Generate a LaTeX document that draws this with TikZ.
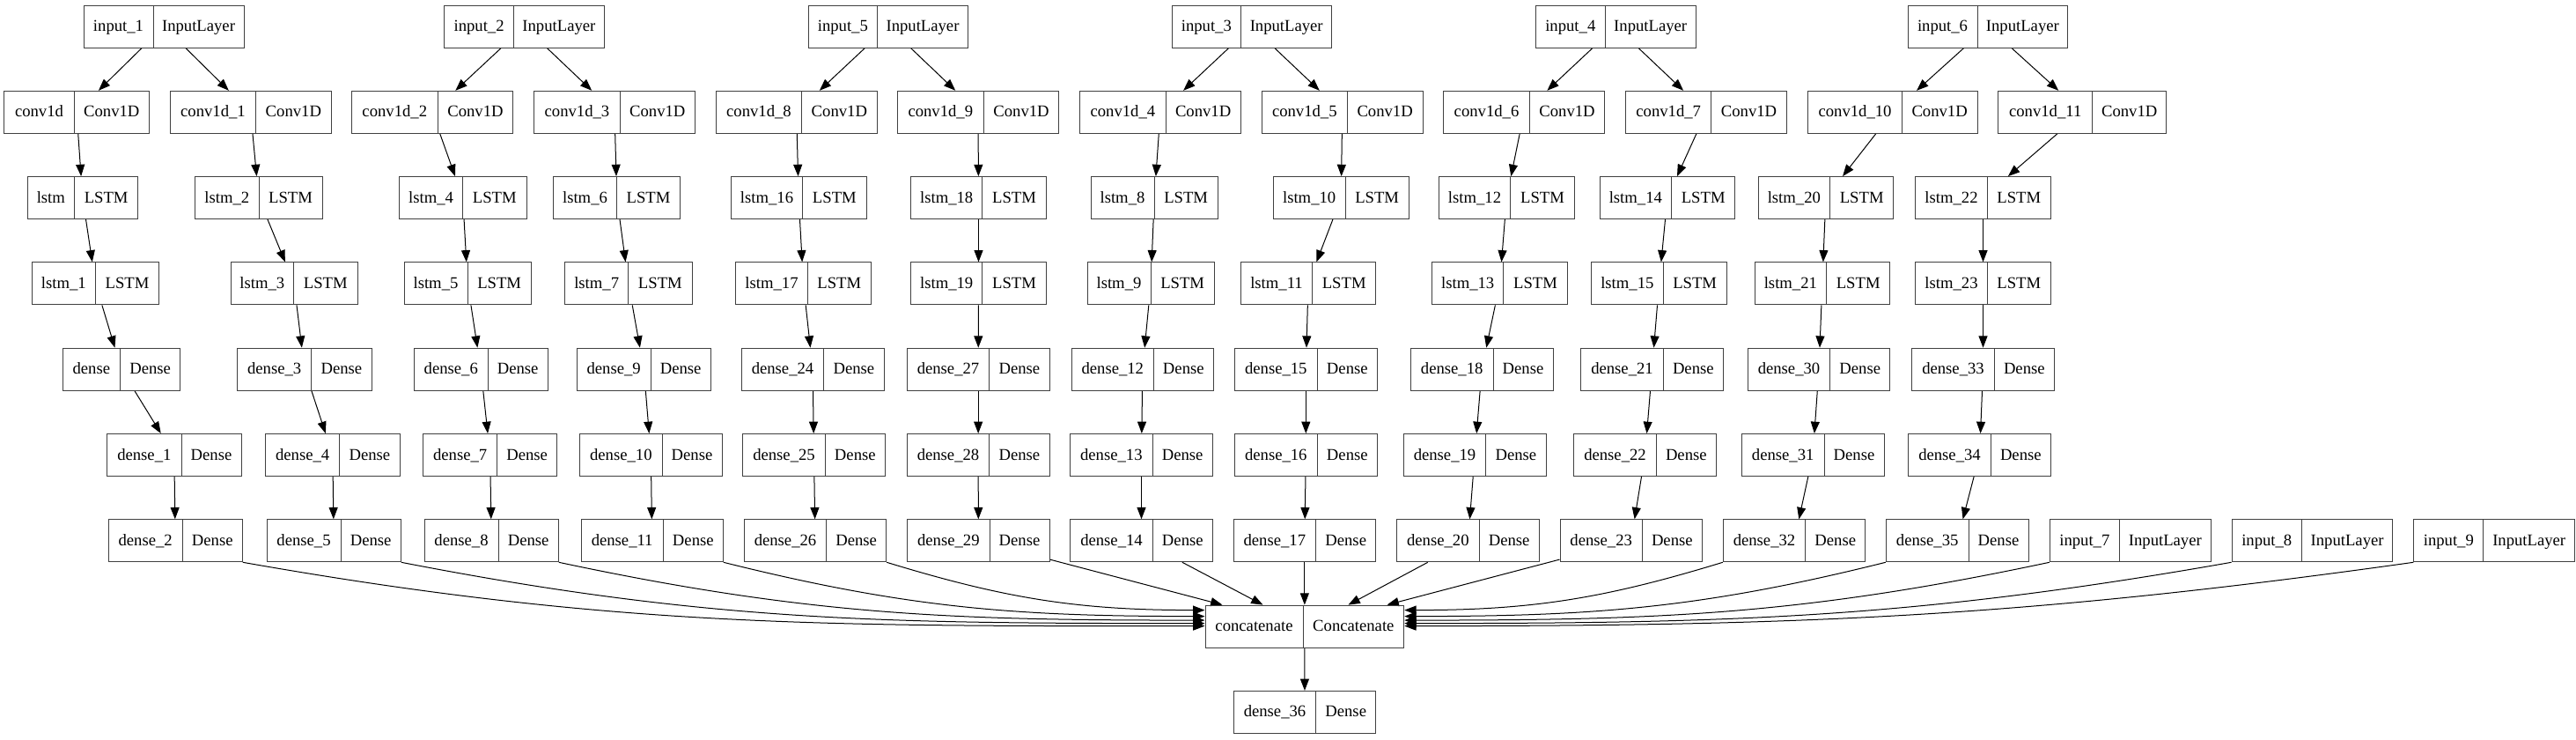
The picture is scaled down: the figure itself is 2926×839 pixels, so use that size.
\documentclass[tikz,border=0pt]{standalone}
\usepackage{fontspec}
\setmainfont{Liberation Serif}
\usepackage{tikz}
\usetikzlibrary{arrows.meta}
\usetikzlibrary{calc}
\pgfdeclarelayer{nodelayer}
\pgfdeclarelayer{edgelayer}
\pgfsetlayers{edgelayer,nodelayer,main}
\tikzset{lbox/.style={shape=rectangle, draw=black!75, line width=0.75pt, inner sep=0pt, minimum height=36pt}}
\tikzset{lsplit/.style={draw=black!75, line width=0.75pt}}
\tikzset{ltext/.style={inner sep=0pt, anchor=base, font=\fontsize{14}{16}\selectfont}}
\tikzset{arr/.style={line width=0.75pt, -{Triangle[length=10pt,width=7.5pt]}}}
% one keras layer: name, left, split, right, row, layer name, layer type
\newcommand{\lyr}[7]{%
\pgfmathsetmacro{\ly}{30+97.3*#5}%
\node [style=lbox, minimum width={(#4-#2)*0.75pt}] (#1) at ({(#2+#4)/2}, \ly) {};
\draw [style=lsplit] (#3, \ly-24) -- (#3, \ly+24);
\node [style=ltext] (#1a) at ({(#2+#3)/2}, \ly+5.5) {#6};
\node [style=ltext] (#1b) at ({(#3+#4)/2}, \ly+5.5) {#7};
}

\begin{document}
\begin{tikzpicture}[x=0.75pt, y=-0.75pt]
	\useasboundingbox (0, 0) rectangle (2926, 839);
	\begin{pgfonlayer}{nodelayer}
		\lyr{input1}{95}{174}{277}{0}{input\_1}{InputLayer}
		\lyr{input2}{504.7}{583.5}{686.3}{0}{input\_2}{InputLayer}
		\lyr{input5}{918}{996.7}{1099.3}{0}{input\_5}{InputLayer}
		\lyr{input3}{1331}{1409.7}{1512.7}{0}{input\_3}{InputLayer}
		\lyr{input4}{1744.3}{1823.3}{1926}{0}{input\_4}{InputLayer}
		\lyr{input6}{2167}{2246}{2348.7}{0}{input\_6}{InputLayer}

		\lyr{conv1d}{4.7}{84.3}{169.3}{1}{conv1d}{Conv1D}
		\lyr{conv1d1}{193.3}{290.7}{376}{1}{conv1d\_1}{Conv1D}
		\lyr{conv1d2}{399.3}{497.3}{582.7}{1}{conv1d\_2}{Conv1D}
		\lyr{conv1d3}{606.7}{704.3}{789.3}{1}{conv1d\_3}{Conv1D}
		\lyr{conv1d8}{813.3}{910.7}{996}{1}{conv1d\_8}{Conv1D}
		\lyr{conv1d9}{1019.3}{1117.3}{1202.7}{1}{conv1d\_9}{Conv1D}
		\lyr{conv1d4}{1226.7}{1324}{1409.3}{1}{conv1d\_4}{Conv1D}
		\lyr{conv1d5}{1433.3}{1530.3}{1616}{1}{conv1d\_5}{Conv1D}
		\lyr{conv1d6}{1639.7}{1737.3}{1822.7}{1}{conv1d\_6}{Conv1D}
		\lyr{conv1d7}{1846.7}{1943.7}{2029.3}{1}{conv1d\_7}{Conv1D}
		\lyr{conv1d10}{2053.7}{2160.3}{2246}{1}{conv1d\_10}{Conv1D}
		\lyr{conv1d11}{2269.7}{2376.7}{2460.7}{1}{conv1d\_11}{Conv1D}

		\lyr{lstm}{31}{84.7}{156.7}{2}{lstm}{LSTM}
		\lyr{lstm2}{221.7}{294}{366}{2}{lstm\_2}{LSTM}
		\lyr{lstm4}{453.4}{525.7}{598}{2}{lstm\_4}{LSTM}
		\lyr{lstm6}{628.7}{700.3}{772.7}{2}{lstm\_6}{LSTM}
		\lyr{lstm16}{830.3}{911.7}{984}{2}{lstm\_16}{LSTM}
		\lyr{lstm18}{1034.7}{1115.7}{1188.3}{2}{lstm\_18}{LSTM}
		\lyr{lstm8}{1239}{1311}{1383.3}{2}{lstm\_8}{LSTM}
		\lyr{lstm10}{1446.3}{1528}{1600.3}{2}{lstm\_10}{LSTM}
		\lyr{lstm12}{1634.3}{1715.7}{1788.3}{2}{lstm\_12}{LSTM}
		\lyr{lstm14}{1817}{1898.7}{1970.7}{2}{lstm\_14}{LSTM}
		\lyr{lstm20}{1997}{2078.7}{2150.7}{2}{lstm\_20}{LSTM}
		\lyr{lstm22}{2175.7}{2257.3}{2329.3}{2}{lstm\_22}{LSTM}

		\lyr{lstm1}{36.3}{108.3}{180.7}{3}{lstm\_1}{LSTM}
		\lyr{lstm3}{262}{333.7}{406}{3}{lstm\_3}{LSTM}
		\lyr{lstm5}{459}{531}{603.3}{3}{lstm\_5}{LSTM}
		\lyr{lstm7}{641.7}{713.7}{786}{3}{lstm\_7}{LSTM}
		\lyr{lstm17}{835.7}{917.3}{989.3}{3}{lstm\_17}{LSTM}
		\lyr{lstm19}{1034.7}{1115.7}{1188.3}{3}{lstm\_19}{LSTM}
		\lyr{lstm9}{1235}{1307}{1379.3}{3}{lstm\_9}{LSTM}
		\lyr{lstm11}{1409.3}{1490.7}{1562.7}{3}{lstm\_11}{LSTM}
		\lyr{lstm13}{1626.7}{1707.7}{1780.3}{3}{lstm\_13}{LSTM}
		\lyr{lstm15}{1807.7}{1889}{1961.3}{3}{lstm\_15}{LSTM}
		\lyr{lstm21}{1993}{2074.7}{2146.7}{3}{lstm\_21}{LSTM}
		\lyr{lstm23}{2175.7}{2257.3}{2329.3}{3}{lstm\_23}{LSTM}

		\lyr{dense}{71}{136.7}{204.7}{4}{dense}{Dense}
		\lyr{dense3}{269.7}{353.7}{422}{4}{dense\_3}{Dense}
		\lyr{dense6}{470.3}{554.3}{622}{4}{dense\_6}{Dense}
		\lyr{dense9}{655.3}{739}{807.3}{4}{dense\_9}{Dense}
		\lyr{dense24}{842.3}{935.7}{1004}{4}{dense\_24}{Dense}
		\lyr{dense27}{1030.3}{1123.7}{1192}{4}{dense\_27}{Dense}
		\lyr{dense12}{1217.3}{1310.3}{1378.3}{4}{dense\_12}{Dense}
		\lyr{dense15}{1402.3}{1496.3}{1564.3}{4}{dense\_15}{Dense}
		\lyr{dense18}{1602.3}{1696}{1764}{4}{dense\_18}{Dense}
		\lyr{dense21}{1795.7}{1889.3}{1957.3}{4}{dense\_21}{Dense}
		\lyr{dense30}{1985.3}{2078.7}{2146.7}{4}{dense\_30}{Dense}
		\lyr{dense33}{2171.7}{2265.3}{2333.3}{4}{dense\_33}{Dense}

		\lyr{dense1}{121.7}{206}{274}{5}{dense\_1}{Dense}
		\lyr{dense4}{301.7}{385.7}{454}{5}{dense\_4}{Dense}
		\lyr{dense7}{480.7}{564.7}{632.7}{5}{dense\_7}{Dense}
		\lyr{dense10}{658.7}{752}{820}{5}{dense\_10}{Dense}
		\lyr{dense25}{843.7}{937.3}{1005.3}{5}{dense\_25}{Dense}
		\lyr{dense28}{1030.3}{1123.7}{1192}{5}{dense\_28}{Dense}
		\lyr{dense13}{1215.7}{1309}{1377.3}{5}{dense\_13}{Dense}
		\lyr{dense16}{1402.3}{1496.3}{1564.3}{5}{dense\_16}{Dense}
		\lyr{dense19}{1594.3}{1687.7}{1756}{5}{dense\_19}{Dense}
		\lyr{dense22}{1787.7}{1881.3}{1949.3}{5}{dense\_22}{Dense}
		\lyr{dense31}{1978.3}{2072}{2140}{5}{dense\_31}{Dense}
		\lyr{dense34}{2167.7}{2261.3}{2329.3}{5}{dense\_34}{Dense}

		\lyr{dense2}{123}{207.3}{275.3}{6}{dense\_2}{Dense}
		\lyr{dense5}{303}{387}{455.3}{6}{dense\_5}{Dense}
		\lyr{dense8}{482}{566}{634.3}{6}{dense\_8}{Dense}
		\lyr{dense11}{660}{753.3}{821.3}{6}{dense\_11}{Dense}
		\lyr{dense26}{845.3}{938.7}{1006.7}{6}{dense\_26}{Dense}
		\lyr{dense29}{1030.7}{1124}{1192}{6}{dense\_29}{Dense}
		\lyr{dense14}{1215.7}{1309.3}{1377.3}{6}{dense\_14}{Dense}
		\lyr{dense17}{1401}{1494.7}{1562.7}{6}{dense\_17}{Dense}
		\lyr{dense20}{1586.7}{1680}{1748.3}{6}{dense\_20}{Dense}
		\lyr{dense23}{1772}{1865.3}{1933.3}{6}{dense\_23}{Dense}
		\lyr{dense32}{1957.3}{2050.7}{2118.7}{6}{dense\_32}{Dense}
		\lyr{dense35}{2142.3}{2236}{2304}{6}{dense\_35}{Dense}
		\lyr{input7}{2328.3}{2407.3}{2511.3}{6}{input\_7}{InputLayer}
		\lyr{input8}{2535}{2614.5}{2717.7}{6}{input\_8}{InputLayer}
		\lyr{input9}{2741.8}{2820.9}{2924.5}{6}{input\_9}{InputLayer}

		\lyr{concatenate}{1369}{1480}{1594.7}{7}{concatenate}{Concatenate}
		\lyr{dense36}{1401.3}{1494.7}{1562.7}{8}{dense\_36}{Dense}
	\end{pgfonlayer}
	\begin{pgfonlayer}{edgelayer}
		\draw [style=arr] (input1) to (conv1d);
		\draw [style=arr] (input1) to (conv1d1);
		\draw [style=arr] (conv1d) to (lstm);
		\draw [style=arr] (lstm) to (lstm1);
		\draw [style=arr] (lstm1) to (dense);
		\draw [style=arr] (dense) to (dense1);
		\draw [style=arr] (dense1) to (dense2);
		\draw [style=arr] (conv1d1) to (lstm2);
		\draw [style=arr] (lstm2) to (lstm3);
		\draw [style=arr] (lstm3) to (dense3);
		\draw [style=arr] (dense3) to (dense4);
		\draw [style=arr] (dense4) to (dense5);

		\draw [style=arr] (input2) to (conv1d2);
		\draw [style=arr] (input2) to (conv1d3);
		\draw [style=arr] (conv1d2) to (lstm4);
		\draw [style=arr] (lstm4) to (lstm5);
		\draw [style=arr] (lstm5) to (dense6);
		\draw [style=arr] (dense6) to (dense7);
		\draw [style=arr] (dense7) to (dense8);
		\draw [style=arr] (conv1d3) to (lstm6);
		\draw [style=arr] (lstm6) to (lstm7);
		\draw [style=arr] (lstm7) to (dense9);
		\draw [style=arr] (dense9) to (dense10);
		\draw [style=arr] (dense10) to (dense11);

		\draw [style=arr] (input5) to (conv1d8);
		\draw [style=arr] (input5) to (conv1d9);
		\draw [style=arr] (conv1d8) to (lstm16);
		\draw [style=arr] (lstm16) to (lstm17);
		\draw [style=arr] (lstm17) to (dense24);
		\draw [style=arr] (dense24) to (dense25);
		\draw [style=arr] (dense25) to (dense26);
		\draw [style=arr] (conv1d9) to (lstm18);
		\draw [style=arr] (lstm18) to (lstm19);
		\draw [style=arr] (lstm19) to (dense27);
		\draw [style=arr] (dense27) to (dense28);
		\draw [style=arr] (dense28) to (dense29);

		\draw [style=arr] (input3) to (conv1d4);
		\draw [style=arr] (input3) to (conv1d5);
		\draw [style=arr] (conv1d4) to (lstm8);
		\draw [style=arr] (lstm8) to (lstm9);
		\draw [style=arr] (lstm9) to (dense12);
		\draw [style=arr] (dense12) to (dense13);
		\draw [style=arr] (dense13) to (dense14);
		\draw [style=arr] (conv1d5) to (lstm10);
		\draw [style=arr] (lstm10) to (lstm11);
		\draw [style=arr] (lstm11) to (dense15);
		\draw [style=arr] (dense15) to (dense16);
		\draw [style=arr] (dense16) to (dense17);

		\draw [style=arr] (input4) to (conv1d6);
		\draw [style=arr] (input4) to (conv1d7);
		\draw [style=arr] (conv1d6) to (lstm12);
		\draw [style=arr] (lstm12) to (lstm13);
		\draw [style=arr] (lstm13) to (dense18);
		\draw [style=arr] (dense18) to (dense19);
		\draw [style=arr] (dense19) to (dense20);
		\draw [style=arr] (conv1d7) to (lstm14);
		\draw [style=arr] (lstm14) to (lstm15);
		\draw [style=arr] (lstm15) to (dense21);
		\draw [style=arr] (dense21) to (dense22);
		\draw [style=arr] (dense22) to (dense23);

		\draw [style=arr] (input6) to (conv1d10);
		\draw [style=arr] (input6) to (conv1d11);
		\draw [style=arr] (conv1d10) to (lstm20);
		\draw [style=arr] (lstm20) to (lstm21);
		\draw [style=arr] (lstm21) to (dense30);
		\draw [style=arr] (dense30) to (dense31);
		\draw [style=arr] (dense31) to (dense32);
		\draw [style=arr] (conv1d11) to (lstm22);
		\draw [style=arr] (lstm22) to (lstm23);
		\draw [style=arr] (lstm23) to (dense33);
		\draw [style=arr] (dense33) to (dense34);
		\draw [style=arr] (dense34) to (dense35);

		% into concatenate
		\draw [style=arr] (dense2.south east) to [out=-10, in=180] ([yshift=-18pt]concatenate.north west);
		\draw [style=arr] (dense5.south east) to [out=-11, in=180] ([yshift=-15.75pt]concatenate.north west);
		\draw [style=arr] (dense8.south east) to [out=-12, in=180] ([yshift=-13.1pt]concatenate.north west);
		\draw [style=arr] (dense11.south east) to [out=-14, in=180] ([yshift=-9.75pt]concatenate.north west);
		\draw [style=arr] (dense26.south east) to [out=-17, in=180] ([yshift=-4.5pt]concatenate.north west);
		\draw [style=arr] (dense29) to ([xshift=15pt]concatenate.north west);
		\draw [style=arr] (dense14) to ([xshift=49.5pt]concatenate.north west);
		\draw [style=arr] (dense17) to (concatenate);
		\draw [style=arr] (dense20) to ([xshift=-47.8pt]concatenate.north east);
		\draw [style=arr] (dense23) to ([xshift=-14.8pt]concatenate.north east);
		\draw [style=arr] (dense32.south west) to [out=197, in=0] ([yshift=-4.5pt]concatenate.north east);
		\draw [style=arr] (dense35.south west) to [out=194, in=0] ([yshift=-9.75pt]concatenate.north east);
		\draw [style=arr] (input7.south west) to [out=192, in=0] ([yshift=-13.1pt]concatenate.north east);
		\draw [style=arr] (input8.south west) to [out=190, in=0] ([yshift=-15.75pt]concatenate.north east);
		\draw [style=arr] (input9.south west) to [out=188, in=0] ([yshift=-18pt]concatenate.north east);
		\draw [style=arr] (concatenate) to (dense36);
	\end{pgfonlayer}
\end{tikzpicture}
\end{document}
